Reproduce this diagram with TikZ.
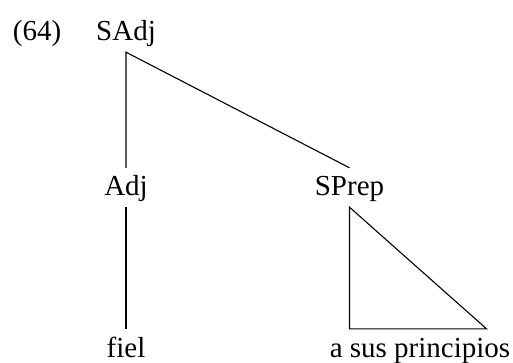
\documentclass[tikz,border=0pt]{standalone}
\usepackage{fontspec}
\setmainfont{Liberation Serif}
\usepackage{tikz}
\usetikzlibrary{positioning}

\begin{document}
\begin{tikzpicture}[
			node distance=155pt and 223.5pt, on grid,
			cat/.style={font=\fontsize{29}{34}\selectfont,text height=21pt,text depth=4pt,inner xsep=2pt,inner ysep=7pt},
			branch/.style={draw=black,line width=1.1pt,line join=miter}
			]
			\useasboundingbox (0,0) rectangle (513pt,-363pt);
			\node[cat] (sadj) at (126pt,-32.5pt) {SAdj};
			\node[cat] (num) [left=89pt of sadj] {(64)};
			\node[cat] (adj) [below=of sadj] {Adj};
			\node[cat] (sprep) [right=of adj] {SPrep};
			\node[cat] (fiel) [below=161pt of adj] {fiel};
			\node[cat] (prin) [below right=161pt and 70.5pt of sprep] {a sus principios};
			\draw[branch] (adj.north) -- (sadj.south) -- (sprep.north);
			\draw[branch] (adj.south) -- (fiel.north);
			% triangulo
			\draw[branch] (sprep.south) -- (sprep.south |- prin.north) -- ++(137pt,0) -- cycle;
		\end{tikzpicture}
\end{document}
